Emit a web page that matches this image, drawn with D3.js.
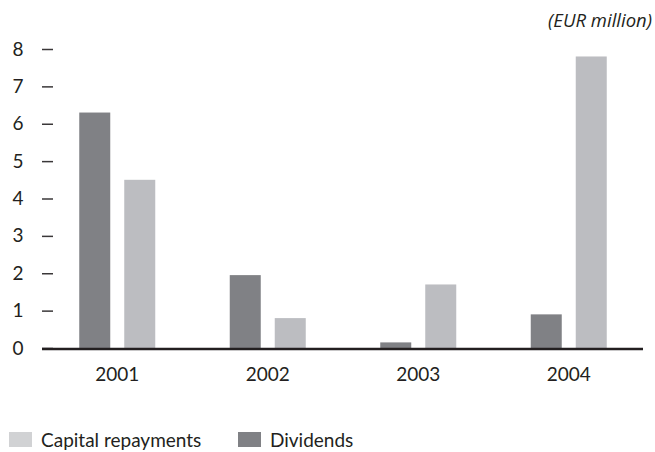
<!DOCTYPE html>
<html>
<head>
<meta charset="utf-8">
<script src="https://cdn.jsdelivr.net/npm/d3@7"></script>
<style>
  html, body { margin: 0; padding: 0; background: #fff; }
  svg { display: block; }
  text { font-family: Lato, "Open Sans", sans-serif; fill: #231f20; }
</style>
</head>
<body>
<svg id="chart" width="655" height="452"></svg>
<script>
// Payouts per year, EUR million
const years = ["2001", "2002", "2003", "2004"];
const dividends = [6.3, 1.95, 0.15, 0.9];
const capitalRepayments = [4.5, 0.8, 1.7, 7.8];
const yTicks = [0, 1, 2, 3, 4, 5, 6, 7, 8];
const seriesNames = ["Dividends", "Capital repayments"];
const seriesColors = { "Dividends": "#808185", "Capital repayments": "#bcbdc1" };
const legendColors = { "Dividends": "#808185", "Capital repayments": "#d1d2d4" };
const legendOrder = ["Capital repayments", "Dividends"];

const svg = d3.select("#chart");

const x0 = d3.scaleBand().domain(years).range([42, 644]).paddingInner(0).paddingOuter(0);
const x1 = d3.scaleBand().domain(seriesNames)
  .range([x0.bandwidth() / 2 - 38, x0.bandwidth() / 2 + 38])
  .paddingInner(14 / 45).paddingOuter(0);
const y = d3.scaleLinear().domain([0, 8]).range([348, 49]);

const rows = years.map((yr, i) => ({
  year: yr,
  values: [
    { key: "Dividends", value: dividends[i] },
    { key: "Capital repayments", value: capitalRepayments[i] }
  ]
}));

// bars
const groups = svg.append("g").selectAll("g").data(rows).join("g")
  .attr("transform", d => `translate(${x0(d.year)},0)`);
groups.selectAll("rect").data(d => d.values).join("rect")
  .attr("x", d => x1(d.key))
  .attr("width", x1.bandwidth())
  .attr("y", d => y(d.value))
  .attr("height", d => y(0) - y(d.value))
  .attr("fill", d => seriesColors[d.key]);

// y axis: short dashes with numbers
const yAxis = d3.axisLeft(y).tickValues(yTicks).tickFormat(d3.format("d"))
  .tickSize(11).tickPadding(18.5);
const gy = svg.append("g").attr("transform", "translate(53,0)").call(yAxis);
gy.select(".domain").remove();
gy.selectAll(".tick line").attr("stroke", "#3a3738").attr("stroke-width", 1.5);
gy.selectAll(".tick text").attr("font-size", 19).attr("fill", "#231f20");

// baseline
svg.append("line")
  .attr("x1", 42).attr("x2", 643)
  .attr("y1", y(0) + 1).attr("y2", y(0) + 1)
  .attr("stroke", "#231f20").attr("stroke-width", 2.6);

// x labels
const xAxis = d3.axisBottom(x0).tickSize(0).tickPadding(0);
const gx = svg.append("g").attr("transform", `translate(0,${y(0) + 26})`).call(xAxis);
gx.select(".domain").remove();
gx.selectAll(".tick text").attr("font-size", 19).attr("fill", "#231f20")
  .attr("dy", "0.35em");

// unit note
svg.append("text")
  .attr("x", 652).attr("y", 27)
  .attr("text-anchor", "end")
  .style("font-family", "'Open Sans', sans-serif")
  .style("font-size", "18.5px")
  .style("font-style", "italic")
  .text("(EUR million)");

// legend
const legendX = [9, 238];
const legend = svg.append("g").selectAll("g").data(legendOrder).join("g")
  .attr("transform", (d, i) => `translate(${legendX[i]},432)`);
legend.append("rect").attr("width", 23).attr("height", 15)
  .attr("fill", d => legendColors[d]);
legend.append("text").attr("x", 32).attr("y", 15)
  .attr("font-size", 19).text(d => d);
</script>
</body>
</html>
